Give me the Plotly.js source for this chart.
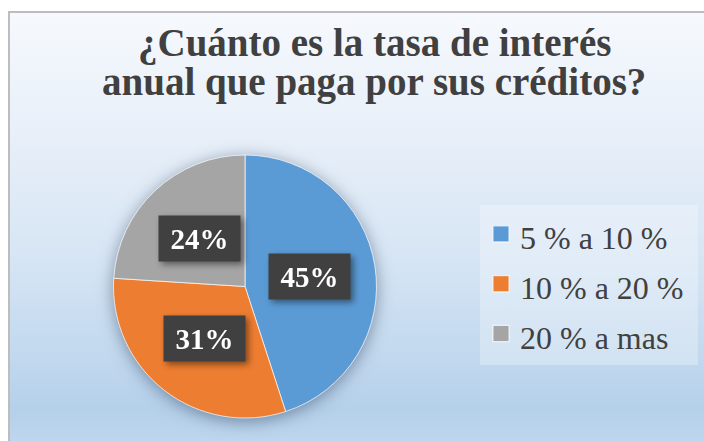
<!DOCTYPE html>
<html>
<head>
<meta charset="utf-8">
<script src="https://cdn.plot.ly/plotly-3.0.1.min.js"></script>
<style>
  html, body { margin: 0; padding: 0; width: 704px; height: 441px; overflow: hidden; background: #ffffff; }
  #frame {
    position: absolute; left: 8px; top: 11px; width: 720px; height: 450px;
    border-left: 2px solid #bdbdbd; border-top: 2px solid #bdbdbd;
    background: linear-gradient(to bottom, #f6f9fd 0%, #e9f0f9 25%, #d6e5f4 55%, #bed6ed 80%, #b5d0ea 88%, #c4daf0 100%);
  }
  #chart { position: absolute; left: 0; top: 0; width: 704px; height: 441px; }
  #chart .pielayer .trace { filter: drop-shadow(0px 3px 8px rgba(40,60,90,0.5)); }
  #chart .legendpoints path.legendpie { transform: translate(21px, -1px) scale(1.35); }
  #chart g.annotation[data-index="0"] .annotation-text-g,
  #chart g.annotation[data-index="1"] .annotation-text-g,
  #chart g.annotation[data-index="2"] .annotation-text-g { filter: drop-shadow(3px 3px 3px rgba(0,0,0,0.45)); }
</style>
</head>
<body>
<div id="frame"></div>
<div id="chart"></div>
<script>
// ---- data ----
const categories = ["5 % a 10 %", "10 % a 20 %", "20 % a mas"];
const values = [45, 31, 24];
const colors = ["#5b9bd5", "#ed7d31", "#a5a5a5"];
const titleLines = ["¿Cuánto es la tasa de interés", "anual que paga por sus créditos?"];

// ---- layout geometry ----
const W = 704, H = 441;
const SERIF = "Liberation Serif";
const domX = [113 / W, 377 / W];
const domY = [1 - 418 / H, 1 - 155 / H];

const total = values.reduce((a, b) => a + b, 0);
const cxPx = (domX[0] + domX[1]) / 2 * W;
const cyPx = (1 - (domY[0] + domY[1]) / 2) * H;
const rPx = Math.min((domX[1] - domX[0]) * W, (domY[1] - domY[0]) * H) / 2;

const annotations = [];
let cum = 0;
values.forEach((v, i) => {
  const mid = (cum + v / 2) / total * 2 * Math.PI;
  cum += v;
  const px = cxPx + 0.5 * rPx * Math.sin(mid);
  const py = cyPx - 0.5 * rPx * Math.cos(mid);
  annotations.push({
    xref: "paper", yref: "paper", x: px / W, y: 1 - py / H,
    xanchor: "center", yanchor: "middle", showarrow: false,
    text: "<b>" + Math.round(v / total * 100) + "%</b>",
    font: { family: SERIF, size: 29, color: "#ffffff" },
    bgcolor: "#404040", borderpad: 4, width: 73, height: 37
  });
});

const titleY = [43, 82];
titleLines.forEach((t, i) => {
  annotations.push({
    xref: "paper", yref: "paper", x: 374 / W, y: 1 - titleY[i] / H,
    xanchor: "center", yanchor: "middle", showarrow: false,
    text: "<b>" + t + "</b>",
    font: { family: SERIF, size: 39, color: "#404040" }
  });
});

const trace = {
  type: "pie",
  labels: categories.map(c => '<span style="font-size:32px">' + c + '</span>&nbsp;'),
  values: values,
  marker: { colors: colors, line: { color: "rgba(255,255,255,0.7)", width: 1 } },
  sort: false,
  direction: "clockwise",
  rotation: 0,
  textinfo: "none",
  hoverinfo: "label+percent",
  domain: { x: domX, y: domY }
};

const layout = {
  width: W, height: H,
  margin: { l: 0, r: 0, t: 0, b: 0 },
  paper_bgcolor: "rgba(0,0,0,0)",
  plot_bgcolor: "rgba(0,0,0,0)",
  font: { family: SERIF },
  showlegend: true,
  legend: {
    x: 480 / W, xanchor: "left", y: 1 - 205 / H, yanchor: "top",
    bgcolor: "rgba(255,255,255,0.28)",
    font: { family: SERIF, size: 36, color: "#404040" },
    itemclick: false, itemdoubleclick: false
  },
  annotations: annotations
};

Plotly.newPlot("chart", [trace], layout, { displayModeBar: false, staticPlot: true });
</script>
</body>
</html>
